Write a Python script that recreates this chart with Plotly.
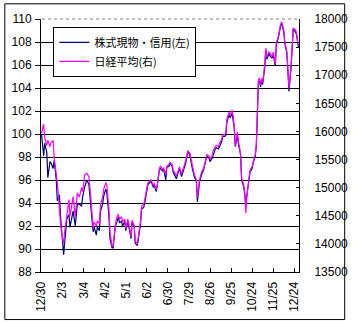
import plotly.graph_objects as go

# trading-day index (0 = 12/30) and the two series
day_idx = [0, 1, 2, 3, 5, 6, 8, 9, 11, 12, 14, 15, 17, 18, 20, 21, 22, 24, 26, 27,
           30, 32, 34, 36, 38, 39, 41, 43, 45, 47, 49, 50, 52, 53, 55, 56, 58, 59, 61, 62,
           64, 65, 67, 68, 70, 71, 73, 74, 76, 77, 79, 80, 82, 83, 85, 86, 88, 89, 91, 92,
           94, 95, 97, 98, 100, 101, 103, 104, 106, 107, 109, 110, 112, 113, 115, 116, 118, 119, 121, 122,
           124, 125, 126, 128, 130, 131, 133, 135, 137, 139, 141, 143, 145, 147, 148, 150, 152, 154, 156, 157,
           159, 160, 162, 163, 165, 166, 168, 169, 171, 172, 174, 175, 176, 178, 179, 181, 182, 183, 184, 186,
           187, 189, 190, 192, 193, 194, 195, 197, 198, 200, 201, 203, 204, 205, 206, 207, 208, 209, 210, 212,
           213, 214, 216, 217, 219, 220, 222, 223, 225, 227, 228, 230, 231, 233, 234, 235, 237, 238, 239, 241,
           242, 244]

stock_margin = [100.0, 99.2, 98.1, 99.2, 98.4, 96.2, 97.6, 97.5, 97.0, 97.7, 96.0, 94.2, 94.7, 92.9, 90.3, 89.5, 90.6, 92.6, 93.0, 91.9,
                93.3, 92.0, 93.9, 93.9, 93.7, 94.5, 95.4, 96.0, 95.6, 93.2, 91.5, 91.9, 91.2, 91.9, 91.6, 93.3, 93.9, 94.6, 95.2, 94.9,
                92.9, 90.9, 90.1, 90.1, 92.0, 92.2, 92.8, 92.3, 92.4, 92.0, 92.4, 91.6, 92.4, 91.9, 90.9, 92.4, 91.9, 90.5, 90.3, 90.9,
                92.2, 93.5, 93.6, 94.0, 95.0, 95.6, 95.8, 95.9, 95.4, 95.5, 95.0, 95.6, 96.9, 97.0, 96.8, 96.9, 96.0, 97.1, 97.2, 97.4,
                97.2, 96.7, 96.5, 96.1, 96.7, 97.0, 96.3, 96.9, 97.5, 98.5, 98.1, 97.1, 96.3, 95.9, 94.1, 95.8, 96.5, 96.9, 97.6, 98.1,
                97.9, 97.6, 97.9, 98.2, 98.7, 98.8, 98.7, 98.9, 99.3, 99.8, 99.8, 99.9, 101.0, 101.7, 101.4, 101.8, 101.3, 100.5, 98.9, 99.9,
                99.1, 98.2, 96.0, 95.4, 94.7, 93.9, 94.7, 95.9, 96.7, 97.0, 97.5, 98.1, 99.0, 101.8, 104.5, 104.6, 104.1, 104.6, 104.3, 105.8,
                107.3, 106.5, 107.0, 106.8, 106.6, 106.9, 105.9, 107.8, 108.4, 109.4, 109.6, 108.9, 107.9, 107.0, 105.2, 103.7, 105.8, 108.2, 109.1, 108.9,
                108.7, 107.5]

nikkei = [15960, 16050, 16130, 15890, 15750, 15840, 15730, 15800, 15840, 15540, 15260, 15090, 14620, 14360, 14090, 14010, 14220, 14560, 14790, 14490,
          14840, 14490, 14910, 14830, 15000, 14930, 15230, 15260, 15190, 14790, 14270, 14390, 14320, 14410, 14360, 14700, 14830, 14970, 15090, 15050,
          14620, 14220, 13950, 13970, 14360, 14440, 14530, 14440, 14480, 14390, 14440, 14270, 14440, 14320, 14130, 14420, 14320, 14040, 14010, 14130,
          14410, 14670, 14700, 14790, 15000, 15090, 15120, 15140, 15050, 15070, 14970, 15050, 15350, 15380, 15330, 15350, 15230, 15380, 15420, 15450,
          15420, 15310, 15280, 15210, 15310, 15370, 15240, 15350, 15490, 15660, 15610, 15420, 15240, 15140, 14830, 15140, 15280, 15350, 15490, 15590,
          15560, 15510, 15560, 15660, 15730, 15750, 15730, 15790, 15860, 15940, 15940, 15980, 16220, 16340, 16290, 16380, 16270, 16100, 15750, 15990,
          15820, 15610, 15170, 15050, 14910, 14550, 14840, 15140, 15310, 15380, 15470, 15590, 15790, 16360, 16920, 16950, 16830, 16940, 16880, 17200,
          17480, 17320, 17420, 17390, 17340, 17410, 17200, 17580, 17700, 17910, 17950, 17810, 17600, 17420, 17060, 16780, 17180, 17670, 17840, 17810,
          17770, 17530]

tick_idx = [0, 20, 40, 60, 80, 100, 120, 140, 160, 180, 200, 220, 240]
tick_text = ["12/30", "2/3", "3/4", "4/2", "5/1", "6/2", "6/30", "7/29", "8/26", "9/25", "10/24", "11/25", "12/24"]

name_left = "株式現物・信用(左)"
name_right = "日経平均(右)"

NUM_FONT = dict(family="Liberation Sans, Arial, sans-serif", size=12, color="black")
JP_FONT = dict(family="Noto Sans CJK JP, sans-serif", size=11, color="black")

fig = go.Figure()
fig.add_trace(go.Scatter(x=day_idx, y=stock_margin, mode="lines", name=name_left,
                         line=dict(color="#000080", width=1.2)))
fig.add_trace(go.Scatter(x=day_idx, y=nikkei, mode="lines", name=name_right, yaxis="y2",
                         line=dict(color="#FF00FF", width=1.2)))

L, R, T, B = 39, 50, 16, 50
W, H = 360, 324
pw, ph = W - L - R, H - T - B

fig.update_layout(
    width=W, height=H,
    margin=dict(l=L, r=R, t=T, b=B, pad=0),
    paper_bgcolor="white", plot_bgcolor="white",
    showlegend=True,
    legend=dict(x=(52 - L) / pw, y=(H - B - 24) / ph, xanchor="left", yanchor="top",
                bgcolor="white", bordercolor="black", borderwidth=1,
                font=JP_FONT, itemwidth=30, tracegroupgap=0),
    xaxis=dict(range=[-0.5, 244.5], tickmode="array", tickvals=tick_idx, ticktext=tick_text,
               tickangle=-90, ticks="inside", ticklen=4, tickcolor="black",
               showline=True, linecolor="black", linewidth=1, showgrid=False,
               zeroline=False, tickfont=NUM_FONT, ticklabelstandoff=4),
    yaxis=dict(range=[88, 110], dtick=2, tick0=88, ticks="outside", ticklen=5, tickcolor="black",
               showline=True, linecolor="black", linewidth=1,
               showgrid=True, gridcolor="black", gridwidth=1, zeroline=False,
               tickfont=NUM_FONT, ticklabelstandoff=1),
    yaxis2=dict(range=[13500, 18000], dtick=500, tick0=13500, overlaying="y", side="right",
                ticks="inside", ticklen=3, tickcolor="black", tickformat="d",
                showline=True, linecolor="black", linewidth=1, showgrid=False, zeroline=False,
                tickfont=NUM_FONT, ticklabelstandoff=12),
    shapes=[
        # plot-area top edge: light dotted border
        dict(type="line", xref="paper", yref="paper", x0=0.004, x1=0.996, y0=1, y1=1,
             line=dict(color="white", width=1.5), layer="below"),
        dict(type="line", xref="paper", yref="paper", x0=0.004, x1=0.996, y0=1, y1=1,
             line=dict(color="#808080", width=1, dash="dot"), layer="above"),
        # outer chart frame
        dict(type="rect", xref="paper", yref="paper",
             x0=(1 - L) / pw, x1=(358 - L) / pw, y0=(H - B - 322.5) / ph, y1=(H - B - 0.5) / ph,
             line=dict(color="black", width=1), fillcolor="rgba(0,0,0,0)", layer="above"),
    ],
)

fig.write_html("out.html")
